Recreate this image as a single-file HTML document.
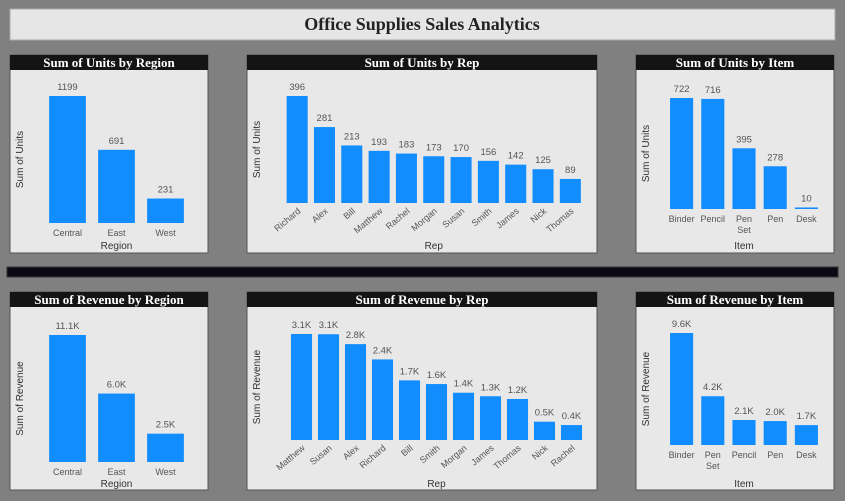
<!DOCTYPE html>
<html><head><meta charset="utf-8"><style>
html,body{margin:0;padding:0;background:#808080;width:845px;height:501px;overflow:hidden}
svg{display:block}
.hdr{font-family:"Liberation Serif",serif;font-size:13px;fill:#fff;font-weight:bold}
.val{font-family:"Liberation Sans",sans-serif;font-size:9.5px;fill:#555}
.cat{font-family:"Liberation Sans",sans-serif;font-size:9px;fill:#555}
.ttl{font-family:"Liberation Sans",sans-serif;font-size:10px;fill:#333}
</style></head><body>
<svg id="dash" width="845" height="501">
<rect x="0" y="0" width="845" height="501" fill="#808080"/>
<rect x="10" y="9" width="825" height="31" fill="#e6e6e6" stroke="#aaa"/>
<text x="422" y="30" text-anchor="middle" font-family="Liberation Serif, serif" font-size="18" font-weight="bold" fill="#222">Office Supplies Sales Analytics</text>
<rect x="7" y="267" width="831" height="10" fill="#0a0a14" stroke="#333"/>
</svg>
<script>
const unitsRegionCats=["Central","East","West"];
const unitsRegionVals=[1199,691,231];
const unitsRepCats=["Richard","Alex","Bill","Matthew","Rachel","Morgan","Susan","Smith","James","Nick","Thomas"];
const unitsRepVals=[396,281,213,193,183,173,170,156,142,125,89];
const unitsItemCats=["Binder","Pencil","Pen Set","Pen","Desk"];
const unitsItemVals=[722,716,395,278,10];
const revRegionCats=["Central","East","West"];
const revRegionVals=[11139,6002,2486];
const revRepCats=["Matthew","Susan","Alex","Richard","Bill","Smith","Morgan","James","Thomas","Nick","Rachel"];
const revRepVals=[3109,3102,2812,2363,1749,1641,1387,1283,1203,536,438];
const revItemCats=["Binder","Pen Set","Pencil","Pen","Desk"];
const revItemVals=[9577,4169,2135,2045,1700];

const NS="http://www.w3.org/2000/svg";
const svg=document.getElementById('dash');
function mk(tag,attrs,parent){const e=document.createElementNS(NS,tag);for(const k in attrs)e.setAttribute(k,attrs[k]);(parent||svg).appendChild(e);return e;}
function fmtK(v){return (v/1000).toFixed(1)+'K';}
function fmtN(v){return String(v);}

function chart(o){
  const g=mk('g',{});
  
  
  const bg=mk('rect',{x:o.px,y:o.py,width:o.pw,height:198,fill:'#e8e8e8',stroke:'#555'},g);
  
  
  const hb=mk('rect',{x:o.px,y:o.py,width:o.pw,height:15,fill:'#141414'},g);
  
  
  const ht=mk('text',{x:o.px+o.pw/2,y:o.py+12,'text-anchor':'middle','class':'hdr'},g);
  ht.textContent=o.title;
  
  
  const max=Math.max(...o.vals);
  const n=o.cats.length;
  const band=(o.x1-o.x0)/n;
  const bw=band*o.bf;
  const xs=i=>o.x0+band*i+(band-bw)/2;
  const ys=v=>o.base-v/max*o.H;
  o.vals.forEach((v,i)=>{
    const y=ys(v);
    const r=mk('rect',{x:xs(i),y:y,width:bw,height:Math.max(o.base-y,1.5),fill:'#118dff'},g);
    
    
    const t=mk('text',{x:xs(i)+bw/2,y:y-6,'text-anchor':'middle','class':'val'},g);
    t.textContent=o.fmt(v);
    
    
    const cx=xs(i)+bw/2;
    if(o.rot){
      const c=mk('text',{x:cx+4,y:o.base+9,'text-anchor':'end','class':'cat',transform:`rotate(-40 ${cx+4} ${o.base+9})`},g);
      c.textContent=o.cats[i];
      
      
    } else {
      const parts=o.wrap&&o.cats[i].includes(' ')?o.cats[i].split(' '):[o.cats[i]];
      parts.forEach((p,j)=>{
        const c=mk('text',{x:cx,y:o.base+13+j*11,'text-anchor':'middle','class':'cat'},g);
        c.textContent=p;
        
        
      });
    }
  });
  const xt=mk('text',{x:(o.x0+o.x1)/2,y:o.xty,'text-anchor':'middle','class':'ttl'},g);
  xt.textContent=o.xt;
  
  
  const yy=(o.base-o.H/2);
  const yt=mk('text',{x:o.ytx,y:yy,'text-anchor':'middle','class':'ttl',transform:`rotate(-90 ${o.ytx} ${yy})`},g);
  yt.textContent=o.yt;
  
  
}
chart({name:'units-by-region-chart',title:'Sum of Units by Region',px:10,py:55,pw:198,cats:unitsRegionCats,vals:unitsRegionVals,x0:43,x1:190,bf:0.75,base:223,H:127,fmt:fmtN,xt:'Region',xty:249,yt:'Sum of Units',ytx:23});
chart({name:'units-by-rep-chart',title:'Sum of Units by Rep',px:247,py:55,pw:350,cats:unitsRepCats,vals:unitsRepVals,x0:283.5,x1:584,bf:0.77,base:203,H:107,fmt:fmtN,rot:true,xt:'Rep',xty:249,yt:'Sum of Units',ytx:260});
chart({name:'units-by-item-chart',title:'Sum of Units by Item',px:636,py:55,pw:198,cats:unitsItemCats,vals:unitsItemVals,x0:666,x1:822,bf:0.74,base:209,H:111,fmt:fmtN,wrap:true,xt:'Item',xty:249,yt:'Sum of Units',ytx:649});
chart({name:'revenue-by-region-chart',title:'Sum of Revenue by Region',px:10,py:292,pw:198,cats:revRegionCats,vals:revRegionVals,x0:43,x1:190,bf:0.75,base:462,H:127,fmt:fmtK,xt:'Region',xty:487,yt:'Sum of Revenue',ytx:23});
chart({name:'revenue-by-rep-chart',title:'Sum of Revenue by Rep',px:247,py:292,pw:350,cats:revRepCats,vals:revRepVals,x0:288,x1:585,bf:0.78,base:440,H:106,fmt:fmtK,rot:true,xt:'Rep',xty:487,yt:'Sum of Revenue',ytx:260});
chart({name:'revenue-by-item-chart',title:'Sum of Revenue by Item',px:636,py:292,pw:198,cats:revItemCats,vals:revItemVals,x0:666,x1:822,bf:0.74,base:445,H:112,fmt:fmtK,wrap:true,xt:'Item',xty:487,yt:'Sum of Revenue',ytx:649});
</script>
</body></html>
